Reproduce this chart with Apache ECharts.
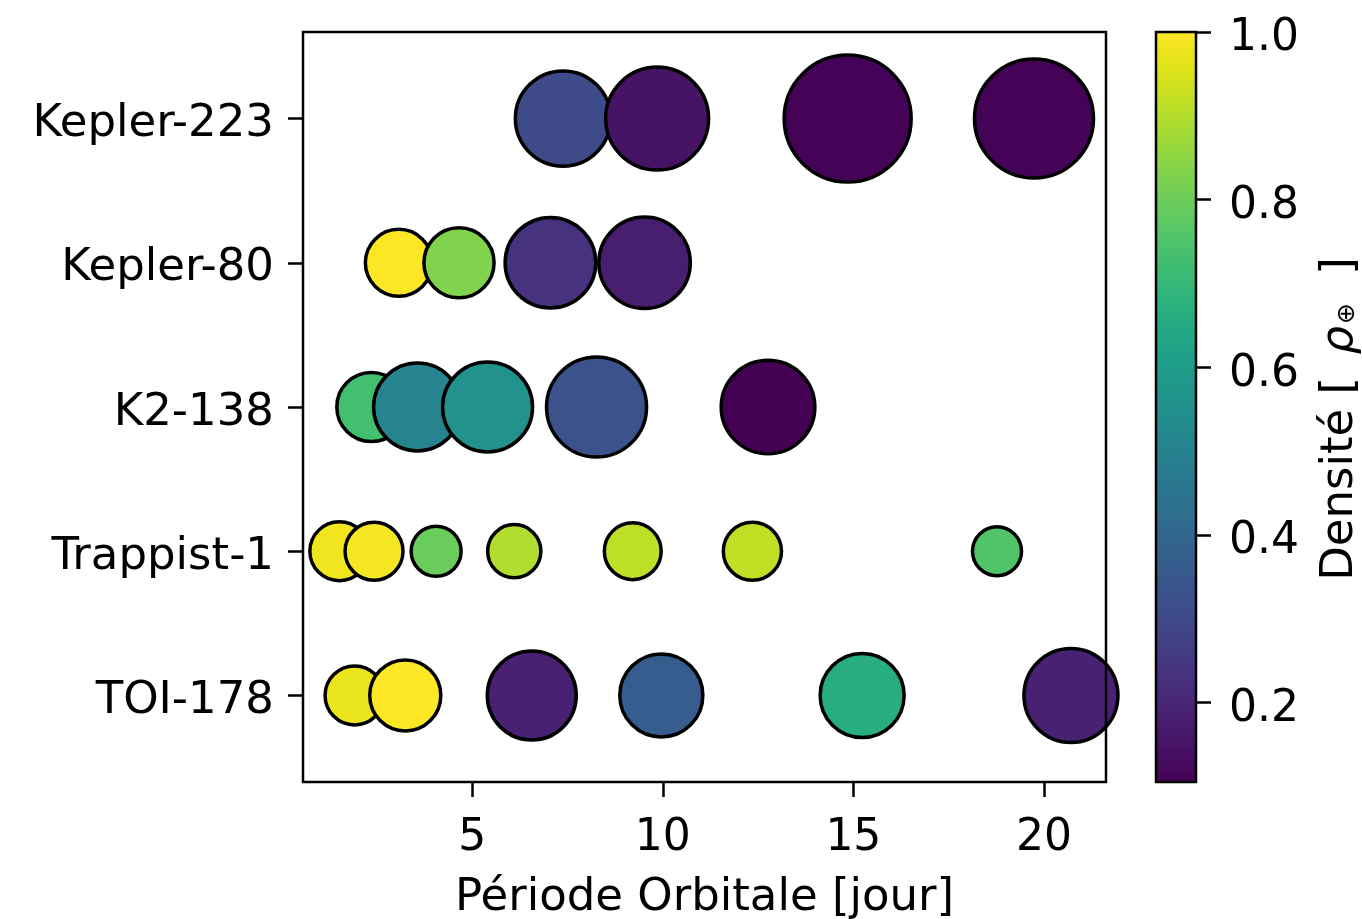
<!DOCTYPE html>
<html>
<head>
<meta charset="utf-8">
<script src="https://cdn.jsdelivr.net/npm/echarts@6/dist/echarts.min.js"></script>
<style>
  html, body { margin: 0; padding: 0; background: #fff; }
  #main { width: 1362px; height: 919px; }
</style>
</head>
<body>
<div id="main"></div>
<script>
var systemes = ['TOI-178', 'Trappist-1', 'K2-138', 'Kepler-80', 'Kepler-223'];

// période orbitale [jour], une liste par système (même ordre que systemes)
var periodes = [
    [1.91, 3.24, 6.56, 9.96, 15.23, 20.71],
    [1.51, 2.42, 4.05, 6.10, 9.21, 12.35, 18.77],
    [2.35, 3.56, 5.40, 8.26, 12.76],
    [3.07, 4.65, 7.05, 9.52],
    [7.38, 9.85, 14.85, 19.74]
];
// rayon [R terre] -> taille du marqueur
var rayons = [
    [1.13, 1.64, 2.57, 2.24, 2.29, 2.87],
    [1.13, 1.09, 0.81, 0.92, 1.05, 1.10, 0.78],
    [1.55, 2.50, 2.63, 3.25, 2.85],
    [1.45, 1.60, 2.67, 2.72],
    [2.95, 3.44, 5.24, 4.60]
];
// densité [rho terre] -> couleur
var densites = [
    [0.973, 0.998, 0.186, 0.365, 0.660, 0.186],
    [0.982, 0.986, 0.794, 0.893, 0.910, 0.915, 0.754],
    [0.730, 0.508, 0.557, 0.330, 0.105],
    [1.000, 0.830, 0.235, 0.180],
    [0.302, 0.150, 0.110, 0.110]
];
var cbarTicks = [0.2, 0.4, 0.6, 0.8, 1.0];
var xTicks = [5, 10, 15, 20];
var yTicks = [0, 1, 2, 3, 4];

var dMin = 0.105, dMax = 1.0;

// viridis
var viridis = ['#440154', '#471365', '#482475', '#463480', '#414487', '#3b528b',
    '#355f8d', '#2f6c8e', '#2a788e', '#25848e', '#21918c', '#1e9c89', '#22a884',
    '#2fb47c', '#44bf70', '#5ec962', '#7ad151', '#9bd93c', '#bddf26', '#dfe318', '#fde725'];

var points = [];
for (var i = 0; i < systemes.length; i++) {
    for (var j = 0; j < periodes[i].length; j++) {
        points.push([periodes[i][j], i, densites[i][j], rayons[i][j]]);
    }
}

var police = 'DejaVu Sans';
var noir = '#000';

var myChart = echarts.init(document.getElementById('main'));

var option = {
    backgroundColor: '#fff',
    animation: false,
    textStyle: { fontFamily: police, color: noir },
    grid: [
        { left: 303, top: 32, width: 803, height: 750, outerBoundsMode: 'none', containLabel: false,
          show: true, borderColor: noir, borderWidth: 2.5, backgroundColor: 'transparent', z: 5 },
        { left: 1156, top: 32, width: 40, height: 750, outerBoundsMode: 'none', containLabel: false }
    ],
    xAxis: [
        {
            type: 'value', gridIndex: 0, min: 0.556, max: 21.63,
            name: 'Période Orbitale [jour]', nameLocation: 'middle', nameGap: 94,
            nameTextStyle: { fontSize: 45, fontFamily: police, color: noir },
            splitLine: { show: false },
            axisLine: { show: false, onZero: false },
            axisTick: { show: true, length: 15, lineStyle: { color: noir, width: 2.5 }, customValues: xTicks },
            axisLabel: { fontSize: 44, fontFamily: police, color: noir, margin: 35, customValues: xTicks }
        },
        { type: 'value', gridIndex: 1, min: 0, max: 1, show: false }
    ],
    yAxis: [
        {
            type: 'value', gridIndex: 0, min: -0.6, max: 4.6,
            splitLine: { show: false },
            axisLine: { show: false, onZero: false },
            axisTick: { show: true, length: 15, lineStyle: { color: noir, width: 2.5 }, customValues: yTicks },
            axisLabel: {
                color: noir, margin: 29, customValues: yTicks,
                formatter: function (v) { return '{t|' + systemes[Math.round(v)] + '}'; },
                rich: { t: { fontSize: 45, fontFamily: police, color: noir, padding: [12, 0, 0, 0] } }
            }
        },
        {
            type: 'value', gridIndex: 1, min: dMin, max: dMax, position: 'right',
            name: '{n|Densité [ }{r|ρ}{s|⊕}{n| ]}', nameLocation: 'middle', nameGap: 122,
            nameTextStyle: {
                color: noir,
                padding: [0, 24, 0, 0],
                rich: {
                    n: { fontSize: 45, fontFamily: police, color: noir },
                    r: { fontSize: 45, fontFamily: police, fontStyle: 'italic', color: noir, padding: [0, 2, 0, 8] },
                    s: { fontSize: 25, fontFamily: police, color: noir, padding: [14, 14, 0, 0] }
                }
            },
            splitLine: { show: false },
            axisLine: { show: false, onZero: false },
            axisTick: { show: true, length: 15, lineStyle: { color: noir, width: 2.5 }, customValues: cbarTicks },
            axisLabel: {
                color: noir, margin: 33, customValues: cbarTicks,
                formatter: function (v) { return '{t|' + v.toFixed(1) + '}'; },
                rich: { t: { fontSize: 44, fontFamily: police, color: noir, padding: [14, 0, 0, 0] } }
            }
        }
    ],
    visualMap: {
        type: 'continuous', show: false, seriesIndex: 0, dimension: 2,
        min: dMin, max: dMax, inRange: { color: viridis }
    },
    series: [
        {
            type: 'scatter', xAxisIndex: 0, yAxisIndex: 0,
            data: points,
            clip: true,
            symbolSize: function (d) { return 55.5 * Math.sqrt(d[3]); },
            itemStyle: { borderColor: noir, borderWidth: 3.5, opacity: 1 }
        },
        {
            // barre de couleur
            type: 'custom', xAxisIndex: 1, yAxisIndex: 1,
            data: [[0, dMin, dMax]],
            renderItem: function (params, api) {
                var bas = api.coord([0, api.value(1)]);
                var haut = api.coord([0, api.value(2)]);
                var stops = viridis.map(function (c, k) {
                    return { offset: k / (viridis.length - 1), color: c };
                });
                return {
                    type: 'rect',
                    shape: { x: params.coordSys.x, y: haut[1], width: params.coordSys.width, height: bas[1] - haut[1] },
                    style: {
                        fill: { type: 'linear', x: 0, y: 1, x2: 0, y2: 0, colorStops: stops },
                        stroke: noir, lineWidth: 2.5
                    }
                };
            }
        }
    ]
};

myChart.setOption(option);
</script>
</body>
</html>
